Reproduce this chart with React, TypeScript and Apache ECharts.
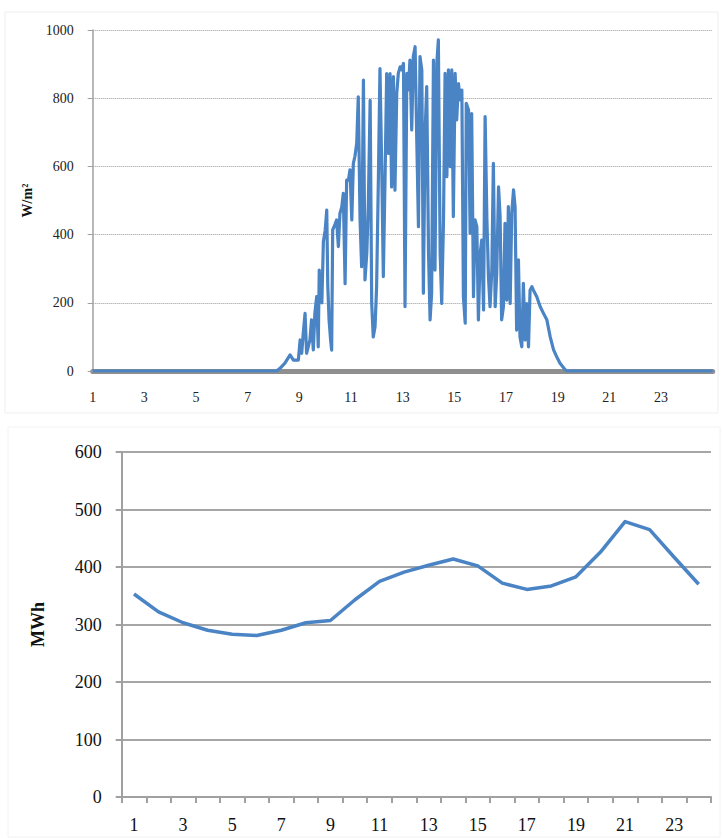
import React, { useEffect, useRef } from "react";
import * as echarts from "echarts";

// Top chart: solar irradiance over the day, [hour offset from 1, W/m²]
const irradiance: [number, number][] = [
  [0, 0], [7.12, 0], [7.25, 8], [7.44, 23], [7.64, 47], [7.77, 32], [7.96, 32], [8.03, 91],
  [8.09, 52], [8.15, 110], [8.22, 169], [8.28, 52], [8.41, 91], [8.47, 150], [8.54, 62],
  [8.6, 169], [8.67, 218], [8.73, 71], [8.77, 296], [8.8, 230], [8.87, 200], [8.93, 380],
  [9.0, 413], [9.06, 472], [9.1, 250], [9.15, 150], [9.21, 90], [9.25, 61], [9.29, 414],
  [9.38, 430], [9.44, 443], [9.51, 365], [9.57, 462], [9.64, 480], [9.7, 521], [9.77, 256],
  [9.83, 560], [9.9, 560], [9.96, 590], [10.03, 443], [10.09, 609], [10.15, 629], [10.22, 668],
  [10.28, 804], [10.35, 443], [10.41, 306], [10.48, 853], [10.54, 267], [10.61, 345],
  [10.67, 492], [10.74, 794], [10.8, 198], [10.86, 100], [10.93, 130], [10.99, 247],
  [11.06, 570], [11.12, 887], [11.19, 589], [11.25, 277], [11.32, 580], [11.38, 872],
  [11.45, 638], [11.51, 872], [11.57, 540], [11.64, 863], [11.7, 530], [11.77, 814],
  [11.83, 873], [11.9, 892], [11.96, 883], [12.03, 902], [12.09, 189], [12.16, 873],
  [12.22, 824], [12.28, 912], [12.35, 707], [12.41, 922], [12.48, 951], [12.54, 697],
  [12.61, 423], [12.67, 922], [12.74, 883], [12.8, 228], [12.87, 707], [12.93, 834],
  [13.0, 345], [13.06, 150], [13.12, 228], [13.19, 912], [13.25, 296], [13.32, 902],
  [13.38, 971], [13.45, 345], [13.51, 198], [13.58, 443], [13.64, 873], [13.71, 570],
  [13.77, 883], [13.84, 599], [13.9, 883], [13.96, 453], [14.03, 873], [14.09, 736],
  [14.16, 843], [14.22, 795], [14.29, 824], [14.35, 218], [14.42, 140], [14.46, 785],
  [14.55, 765], [14.61, 404], [14.67, 755], [14.74, 218], [14.8, 443], [14.87, 423],
  [14.93, 150], [15.0, 345], [15.06, 384], [15.13, 179], [15.19, 746], [15.26, 443],
  [15.32, 277], [15.38, 189], [15.45, 296], [15.51, 609], [15.58, 189], [15.64, 286],
  [15.71, 540], [15.77, 453], [15.83, 150], [15.9, 189], [15.96, 433], [16.03, 208],
  [16.09, 482], [16.16, 198], [16.22, 462], [16.29, 531], [16.35, 482], [16.41, 120],
  [16.48, 326], [16.54, 100], [16.61, 71], [16.67, 257], [16.74, 91], [16.8, 198],
  [16.87, 71], [16.93, 237], [17.0, 247], [17.06, 237], [17.19, 218], [17.32, 189],
  [17.45, 169], [17.58, 150], [17.71, 100], [17.84, 62], [17.96, 42], [18.09, 23],
  [18.29, 4], [18.35, 0], [24, 0],
];

// Bottom chart: hourly energy (MWh)
const hours = ["1", "2", "3", "4", "5", "6", "7", "8", "9", "10", "11", "12",
  "13", "14", "15", "16", "17", "18", "19", "20", "21", "22", "23", "24"];
const loadMWh = [353, 322, 303, 290, 283, 281, 290, 303, 307, 343, 375, 391,
  403, 414, 402, 372, 361, 367, 383, 426, 479, 465, 417, 370];

const FONT = '"Liberation Serif", "Times New Roman", "DejaVu Serif", serif';
const BLUE = "#4a84c4";

export default function App() {
  const ref = useRef<HTMLDivElement>(null);
  useEffect(() => {
    if (!ref.current) return;
    const chart = echarts.init(ref.current, null, { renderer: "svg" });
    chart.setOption({
      animation: false,
      backgroundColor: "#ffffff",
      graphic: [
        { type: "rect", shape: { x: 5, y: 12, width: 713, height: 401 }, style: { fill: "none", stroke: "#efefef", lineWidth: 1 }, silent: true },
        { type: "rect", shape: { x: 8, y: 427, width: 712, height: 410 }, style: { fill: "none", stroke: "#f2f2f2", lineWidth: 1 }, silent: true },
      ],
      grid: [
        { left: 92.7, right: 10.3, top: 30, height: 341 },
        { left: 121.7, right: 12, top: 452, height: 345 },
      ],
      xAxis: [
        {
          gridIndex: 0, type: "value", min: 0, max: 24, interval: 2, offset: 3,
          axisLine: { lineStyle: { color: "#8f8f8f", width: 5 } },
          axisTick: { show: false },
          splitLine: { show: false },
          axisLabel: {
            margin: 16, fontFamily: FONT, fontSize: 14, color: "#222",
            formatter: (v: number) => (v >= 24 ? "" : String(v + 1)),
          },
        },
        {
          gridIndex: 1, type: "category", data: hours, boundaryGap: true,
          axisLine: { lineStyle: { color: "#a0a0a0", width: 2 } },
          axisTick: { show: true, length: 6, interval: 0, lineStyle: { color: "#a0a0a0", width: 2 } },
          splitLine: { show: false },
          axisLabel: { interval: 1, margin: 19, fontFamily: FONT, fontSize: 18, color: "#111" },
        },
      ],
      yAxis: [
        {
          gridIndex: 0, type: "value", min: 0, max: 1000, interval: 200,
          name: "W/m²", nameLocation: "middle", nameRotate: 90, nameGap: 56,
          nameTextStyle: { fontFamily: FONT, fontSize: 14, fontWeight: "bold", color: "#111" },
          axisLine: { show: true, lineStyle: { color: "#a0a0a0", width: 1.5 } },
          axisTick: { show: true, length: 5, lineStyle: { color: "#a0a0a0" } },
          splitLine: { show: true, lineStyle: { color: "#9a9a9a", type: "dotted", width: 1 } },
          axisLabel: {
            margin: 19, fontFamily: FONT, fontSize: 14, color: "#222",
            formatter: (v: number) => String(v),
          },
        },
        {
          gridIndex: 1, type: "value", min: 0, max: 600, interval: 100,
          name: "MWh", nameLocation: "middle", nameRotate: 90, nameGap: 75,
          nameTextStyle: { fontFamily: FONT, fontSize: 18, fontWeight: "bold", color: "#111" },
          axisLine: { show: true, lineStyle: { color: "#a0a0a0", width: 2 } },
          axisTick: { show: true, length: 6, lineStyle: { color: "#a0a0a0", width: 2 } },
          splitLine: { show: true, lineStyle: { color: "#a6a6a6", width: 2 } },
          axisLabel: { margin: 20, fontFamily: FONT, fontSize: 18, color: "#111" },
        },
      ],
      series: [
        {
          type: "line", xAxisIndex: 0, yAxisIndex: 0, data: irradiance,
          showSymbol: false, symbol: "none",
          lineStyle: { color: BLUE, width: 3.2, join: "round" },
        },
        {
          type: "line", xAxisIndex: 1, yAxisIndex: 1, data: loadMWh,
          showSymbol: false, symbol: "none",
          lineStyle: { color: BLUE, width: 3.5, join: "round" },
        },
      ],
    });
    return () => chart.dispose();
  }, []);
  return (
    <div
      ref={ref}
      style={{ position: "fixed", left: 0, top: 0, width: 723, height: 838, background: "#fff" }}
    />
  );
}
